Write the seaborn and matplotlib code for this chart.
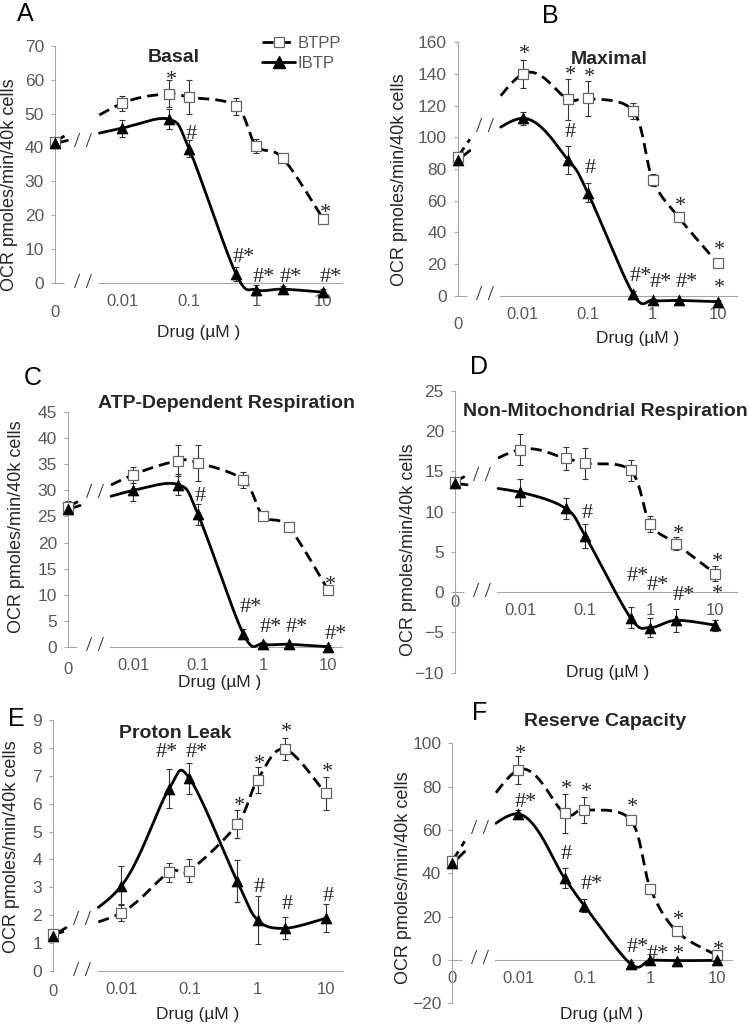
import numpy as np
import matplotlib
matplotlib.use("Agg")
import matplotlib.pyplot as plt
from matplotlib.lines import Line2D
from matplotlib.textpath import TextPath
from matplotlib.font_manager import FontProperties
import seaborn as sns

W, H = 750, 1024

# doses (uM); 0 is drawn one decade left of 0.01 on the log axis
doses = [0, 0.01, 0.05, 0.1, 0.5, 1, 2.5, 10]
tick_doses = [0, 0.01, 0.1, 1, 10]
tick_labels = ["0", "0.01", "0.1", "1", "10"]

# A - Basal
basal_btpp = [41.7, 53.0, 55.8, 54.8, 52.2, 40.5, 36.8, 18.9]
basal_btpp_err = [1.0, 2.3, 4.0, 5.0, 2.5, 2.0, 1.0, 1.0]
basal_ibtp = [41.2, 45.7, 48.3, 39.6, 2.7, -2.0, -1.8, -2.7]
basal_ibtp_err = [1.5, 2.5, 3.0, 2.5, 2.0, 1.5, 1.0, 1.0]
basal_marks = [(0.05, 61.4, "*"), (0.1, 44.7, "#"), (10, 22.3, "*"), (0.5, 8.3, "#*"),
               (1, 2.5, "#*"), (2.5, 2.5, "#*"), (10, 2.5, "#*")]

# B - Maximal
maximal_btpp = [87.8, 140.0, 124.0, 124.6, 116.6, 73.0, 49.5, 20.4]
maximal_btpp_err = [3.0, 9.0, 13.0, 11.0, 5.0, 4.0, 2.0, 2.0]
maximal_ibtp = [85.7, 112.0, 85.7, 65.0, 1.0, -3.0, -3.0, -3.8]
maximal_ibtp_err = [3.0, 4.0, 9.0, 6.0, 2.0, 1.0, 1.0, 1.0]
maximal_marks = [(0.01, 156.2, "*"), (0.05, 142.5, "*"), (0.1, 141.5, "*"), (0.05, 104.6, "#"),
                 (0.1, 82.1, "#"), (0.5, 14.1, "#*"), (1, 9.9, "#*"), (2.5, 9.9, "#*"),
                 (2.5, 60.0, "*"), (10, 32.0, "*"), (10, 8.2, "*")]

# C - ATP-dependent respiration
atp_btpp = [26.9, 33.0, 35.7, 35.3, 32.0, 25.1, 22.9, 10.9]
atp_btpp_err = [1.0, 1.5, 3.0, 3.5, 1.5, 0.5, 0.5, 0.5]
atp_ibtp = [26.4, 30.0, 31.1, 25.4, 2.4, 0.5, 0.45, 0.0]
atp_ibtp_err = [1.0, 2.0, 2.0, 2.0, 1.0, 0.4, 0.3, 0.3]
atp_marks = [(0.1, 29.4, "#"), (10, 12.8, "*"), (0.5, 8.0, "#*"), (1, 4.2, "#*"),
             (2.5, 4.2, "#*"), (10, 2.9, "#*")]

# D - Non-mitochondrial respiration
nonmito_btpp = [13.7, 17.7, 16.6, 16.0, 15.1, 8.5, 6.0, 2.3]
nonmito_btpp_err = [0.5, 1.9, 1.4, 1.9, 1.3, 1.0, 0.8, 0.9]
nonmito_ibtp = [13.5, 12.4, 10.4, 7.0, -3.2, -4.4, -3.5, -4.1]
nonmito_ibtp_err = [0.5, 1.7, 1.3, 1.5, 1.3, 1.2, 1.4, 0.7]
nonmito_marks = [(0.1, 10.1, "#"), (0.5, 2.3, "#*"), (1, 1.2, "#*"), (2.5, -0.1, "#*"),
                 (2.5, 7.9, "*"), (10, 4.4, "*"), (10, 0.5, "*")]

# E - Proton leak
leak_btpp = [1.31, 2.09, 3.54, 3.60, 5.26, 6.85, 7.96, 6.37]
leak_btpp_err = [0.1, 0.3, 0.35, 0.4, 0.5, 0.45, 0.4, 0.6]
leak_ibtp = [1.27, 3.05, 6.53, 6.91, 3.23, 1.83, 1.53, 1.89]
leak_ibtp_err = [0.1, 0.7, 0.7, 0.55, 0.75, 0.85, 0.4, 0.5]
leak_marks = [(0.05, 7.92, "#*", -10), (0.1, 7.92, "#*"), (0.5, 6.13, "*"), (1, 7.63, "*"),
              (2.5, 8.76, "*"), (10, 7.33, "*"), (1, 3.08, "#"), (2.5, 2.49, "#"), (10, 2.78, "#")]

# F - Reserve capacity
reserve_btpp = [45.8, 87.7, 67.7, 69.3, 64.7, 32.9, 13.2, 2.2]
reserve_btpp_err = [2.0, 6.5, 9.0, 6.0, 2.0, 1.5, 1.0, 1.0]
reserve_ibtp = [44.7, 67.4, 37.8, 25.0, -1.8, -0.2, -0.3, -0.2]
reserve_ibtp_err = [2.0, 2.0, 4.5, 3.0, 1.0, 0.8, 0.5, 0.5]
reserve_marks = [(0.01, 97.7, "*"), (0.01, 73.9, "#*"), (0.05, 81.6, "*"), (0.1, 80.0, "*"),
                 (0.5, 73.1, "*"), (0.05, 50.1, "#"), (0.1, 36.3, "#*"), (0.5, 7.1, "#*"),
                 (1, 4.0, "#*"), (2.5, 20.9, "*"), (2.5, 5.5, "*"), (10, 7.1, "*")]

GRAY = "#a6a6a6"
TXT_GRAY = "#595959"


def dose_pos(d):
    d = np.asarray(d, dtype=float)
    return np.where(d > 0, np.log10(np.where(d > 0, d, 1.0)), -3.0)


def smooth_xy(x, y, n=40):
    """Excel-style smoothed line (cubic Bezier through the points)."""
    pts = np.column_stack([x, y])
    P = np.vstack([pts[0], pts, pts[-1]])
    t = np.linspace(0, 1, n, endpoint=False)[:, None]
    out = []
    for i in range(1, len(P) - 2):
        p0, p1, p2, p3 = P[i - 1], P[i], P[i + 1], P[i + 2]
        c1 = p1 + (p2 - p0) / 6
        c2 = p2 - (p3 - p1) / 6
        out.append((1 - t) ** 3 * p1 + 3 * (1 - t) ** 2 * t * c1 + 3 * (1 - t) * t ** 2 * c2 + t ** 3 * p2)
    out.append(pts[-1:])
    s = np.vstack(out)
    return s[:, 0], s[:, 1]


panels = [
    dict(letter="A", title="Basal", btpp=basal_btpp, btpp_err=basal_btpp_err, ibtp=basal_ibtp,
         ibtp_err=basal_ibtp_err, marks=basal_marks, box=(55, 45.7, 342, 296.6), xmax=1.28,
         ylim=(-4, 70), ybound=(0, 70), ystep=10, brk_y=41.5, zero_pad=16,
         letter_xy=(25, 14), title_xy=(174, 57), xl_xy=(199, 333), yl_xy=(10, 185), legend=True),
    dict(letter="B", title="Maximal", btpp=maximal_btpp, btpp_err=maximal_btpp_err, ibtp=maximal_ibtp,
         ibtp_err=maximal_ibtp_err, marks=maximal_marks, box=(457.7, 42.3, 736.7, 303.6), xmax=1.29,
         ylim=(-5, 160), ybound=(0, 160), ystep=20, brk_y=106, zero_pad=15,
         letter_xy=(550, 16), title_xy=(609, 59), xl_xy=(638, 338), yl_xy=(400, 180), legend=False),
    dict(letter="C", title="ATP-Dependent Respiration", btpp=atp_btpp, btpp_err=atp_btpp_err,
         ibtp=atp_ibtp, ibtp_err=atp_ibtp_err, marks=atp_marks, box=(68, 412.3, 341.7, 651.9), xmax=1.21,
         ylim=(-1, 45), ybound=(0, 45), ystep=5, brk_y=29.5, zero_pad=11,
         letter_xy=(33, 378), title_xy=(227, 403), xl_xy=(220, 683), yl_xy=(17, 527), legend=False),
    dict(letter="D", title="Non-Mitochondrial Respiration", btpp=nonmito_btpp, btpp_err=nonmito_btpp_err,
         ibtp=nonmito_ibtp, ibtp_err=nonmito_ibtp_err, marks=nonmito_marks, box=(455, 390.7, 736.7, 672.7),
         xmax=1.33, ylim=(-10, 25), ybound=(-10, 25), ystep=5, brk_y=14.3, zero_pad=2,
         letter_xy=(479, 367), title_xy=(605, 412), xl_xy=(608, 673), yl_xy=(408, 550), legend=False),
    dict(letter="E", title="Proton Leak", btpp=leak_btpp, btpp_err=leak_btpp_err, ibtp=leak_ibtp,
         ibtp_err=leak_ibtp_err, marks=leak_marks, box=(53.3, 720, 343.3, 971), xmax=1.26,
         ylim=(0, 9), ybound=(0, 9), ystep=1, brk_y=1.8, zero_pad=9,
         letter_xy=(16, 719), title_xy=(175, 733), xl_xy=(198, 1015), yl_xy=(12, 847), legend=False),
    dict(letter="F", title="Reserve Capacity", btpp=reserve_btpp, btpp_err=reserve_btpp_err,
         ibtp=reserve_ibtp, ibtp_err=reserve_ibtp_err, marks=reserve_marks, box=(452.3, 743.3, 731.7, 1003.3),
         xmax=1.23, ylim=(-20, 100), ybound=(-20, 100), ystep=20, brk_y=60, zero_pad=8,
         letter_xy=(480, 713), title_xy=(605, 722), xl_xy=(602, 1015), yl_xy=(404, 878), legend=False),
]

sns.set_theme(style="white")
plt.rcParams["font.family"] = ["Liberation Sans", "DejaVu Sans"]

fig = plt.figure(figsize=(W / 100, H / 100), dpi=100)


def ftext(xy, s, **kw):
    fig.text(xy[0] / W, 1 - xy[1] / H, s, ha="center", va="center", **kw)


GAP = (-2.8, -2.35)
MARK_SIZE = 16
MARK_FONT = FontProperties(family=["Liberation Serif", "DejaVu Serif"], size=MARK_SIZE)


def glyph_centre(ch):
    """Ink centre (points, from text origin) of one glyph in the mark font."""
    ext = TextPath((0, 0), ch, size=MARK_SIZE, prop=MARK_FONT).get_extents()
    return (ext.x0 + ext.x1) / 2, (ext.y0 + ext.y1) / 2


MARK_OFFSET = {"*": glyph_centre("*"), "#": glyph_centre("#")}

for p in panels:
    l, t, r, b = p["box"]
    ax = fig.add_axes([l / W, 1 - b / H, (r - l) / W, (b - t) / H])
    ax.set_xlim(-3, p["xmax"])
    ax.set_ylim(*p["ylim"])
    ax.patch.set_alpha(0)

    x = dose_pos(doses)
    for vals, errs, ls, kind in [(p["btpp"], p["btpp_err"], "--", "s"), (p["ibtp"], p["ibtp_err"], "-", "^")]:
        ax.errorbar(x, vals, yerr=errs, fmt="none", ecolor="#333333", elinewidth=0.8,
                    capsize=2.5, capthick=0.8, zorder=2, clip_on=False)
        sx, sy = smooth_xy(x, np.asarray(vals, dtype=float))
        sy = np.where((sx > GAP[0]) & (sx < GAP[1]), np.nan, sy)
        line, = ax.plot(sx, sy, color="black", lw=2.0, ls=ls, zorder=3, clip_on=False)
        if ls == "--":
            line.set_dashes((4, 2.2))
        if kind == "s":
            sns.scatterplot(x=x, y=vals, marker="s", s=48, color="white", edgecolor="#666666",
                            linewidth=0.9, ax=ax, zorder=5, clip_on=False, legend=False)
        else:
            sns.scatterplot(x=x, y=vals, marker="^", s=62, color="black", edgecolor="black",
                            linewidth=0.5, ax=ax, zorder=5, clip_on=False, legend=False)

    # significance marks: first glyph is centred on (dose, y), optional nudge in px
    for m in p["marks"]:
        d, yv, s = m[:3]
        nudge = m[3] if len(m) > 3 else 0
        cx, cy = MARK_OFFSET[s[0]]
        ax.annotate(s, (dose_pos(d), yv), xytext=(1.5 + nudge * 0.72 - cx, -cy), textcoords="offset points",
                    ha="left", va="baseline", fontproperties=MARK_FONT, color="#262626", zorder=6,
                    annotation_clip=False)

    # axes styling
    for side in ["top", "right"]:
        ax.spines[side].set_visible(False)
    ax.spines["left"].set_color(GRAY)
    ax.spines["left"].set_linewidth(0.8)
    ax.spines["left"].set_bounds(*p["ybound"])
    ax.spines["bottom"].set_position(("data", 0))
    ax.spines["bottom"].set_color(GRAY)
    ax.spines["bottom"].set_linewidth(0.8)
    ax.spines["bottom"].set_bounds(GAP[1], p["xmax"])
    ax.hlines(0, -3, -2.86, color=GRAY, lw=0.8, zorder=1)

    ax.set_yticks(np.arange(p["ybound"][0], p["ybound"][1] + 0.01, p["ystep"]))
    ax.set_xticks(dose_pos(tick_doses))
    ax.set_xticklabels(tick_labels)
    ax.tick_params(axis="y", length=3, width=0.8, color=GRAY, labelcolor=TXT_GRAY, labelsize=12.5, pad=5,
                   left=True)
    ax.tick_params(axis="x", length=0, labelcolor=TXT_GRAY, labelsize=12, pad=8, bottom=True)
    ax.xaxis.get_major_ticks()[0].set_pad(p["zero_pad"])
    ax.set_xlabel("")
    ax.set_ylabel("")

    # axis break marks
    for yb in (0, p["brk_y"]):
        ax.text(-2.58, yb, "/ /", ha="center", va="center", fontproperties=MARK_FONT,
                color="#333333", zorder=6)

    ftext(p["letter_xy"], p["letter"], fontsize=18, color="black")
    ftext(p["title_xy"], p["title"], fontsize=14, fontweight="bold", color="#262626")
    ftext(p["xl_xy"], "Drug (\u00b5M )", fontsize=12.5, color="#262626")
    ftext(p["yl_xy"], "OCR pmoles/min/40k cells", fontsize=13, rotation=90, color="#262626")

    if p["legend"]:
        handles = [Line2D([], [], color="black", lw=2, ls=(0, (4, 2.2)), marker="s", ms=7,
                          mfc="white", mec="#666666", mew=0.9),
                   Line2D([], [], color="black", lw=2, ls="-", marker="^", ms=8, mfc="black", mec="black")]
        leg = fig.legend(handles, ["BTPP", "IBTP"], loc="upper left",
                         bbox_to_anchor=(262 / W, 1 - 36 / H), frameon=False, fontsize=12,
                         handlelength=2.0, handletextpad=0.15, labelspacing=0.3, borderpad=0,
                         borderaxespad=0)
        for txt in leg.get_texts():
            txt.set_color(TXT_GRAY)

fig.savefig("out.png", dpi=100)
